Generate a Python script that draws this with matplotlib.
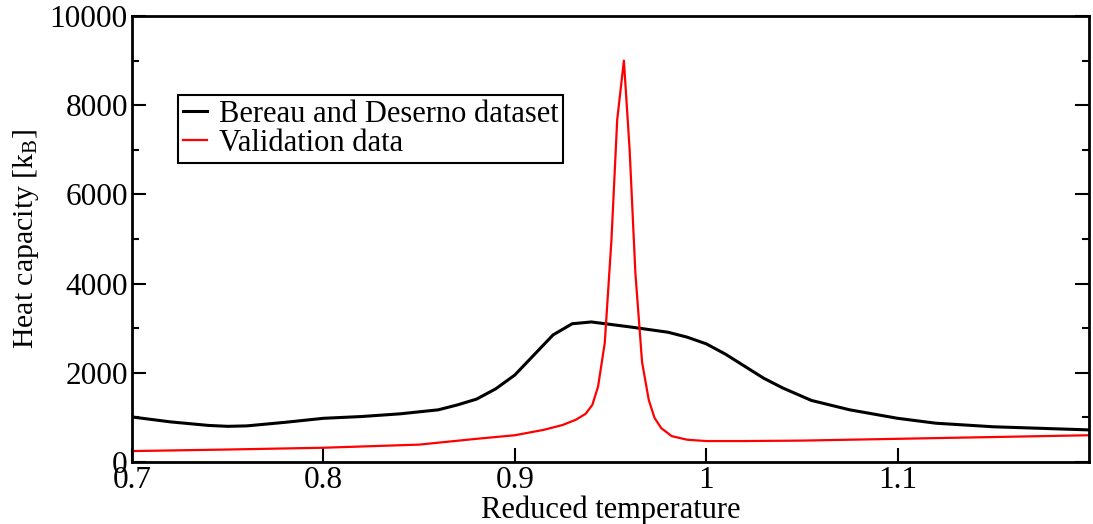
import matplotlib
matplotlib.use("Agg")
import matplotlib.pyplot as plt
from matplotlib.ticker import MultipleLocator

# Bereau and Deserno dataset
blk_t = [0.70, 0.72, 0.74, 0.75, 0.76, 0.78, 0.80, 0.82, 0.84, 0.86, 0.87,
         0.88, 0.89, 0.90, 0.91, 0.92, 0.93, 0.94, 0.96, 0.98, 0.99, 1.00,
         1.01, 1.02, 1.03, 1.04, 1.055, 1.075, 1.10, 1.12, 1.15, 1.20]
blk_c = [1010, 900, 820, 800, 810, 890, 980, 1020, 1080, 1170, 1280,
         1410, 1640, 1950, 2400, 2850, 3100, 3140, 3030, 2910, 2800, 2650,
         2420, 2150, 1880, 1660, 1380, 1170, 980, 870, 790, 720]

# validation data
red_t = [0.70, 0.75, 0.80, 0.85, 0.88, 0.90, 0.915, 0.925, 0.932, 0.937,
         0.9405, 0.9435, 0.947, 0.9505, 0.9535, 0.957, 0.960, 0.963, 0.9665,
         0.970, 0.973, 0.9765, 0.982, 0.99, 1.00, 1.02, 1.05, 1.10, 1.15, 1.20]
red_c = [245, 280, 320, 390, 520, 600, 720, 830, 950, 1080,
         1280, 1690, 2670, 4980, 7670, 9000, 7000, 4240, 2240,
         1390, 990, 760, 580, 500, 470, 470, 480, 520, 560, 600]

xticks = [0.7, 0.8, 0.9, 1.0, 1.1]
xlabels = ["0.7", "0.8", "0.9", "1", "1.1"]

plt.rcParams["font.family"] = ["Liberation Serif", "DejaVu Serif"]
plt.rcParams["mathtext.fontset"] = "custom"
plt.rcParams["mathtext.rm"] = "Liberation Serif"
plt.rcParams["mathtext.it"] = "Liberation Serif:italic"

fig = plt.figure(figsize=(10.93, 5.24), dpi=100)
ax = fig.add_axes([0.1208, 0.1183, 0.8755, 0.8512])

ax.plot(blk_t, blk_c, color="black", lw=2.2, label="Bereau and Deserno dataset")
ax.plot(red_t, red_c, color="red", lw=1.6, label="Validation data")

ax.set_xlim(0.7, 1.2)
ax.set_ylim(0, 10000)
ax.set_xticks(xticks)
ax.set_xticklabels(xlabels)
ax.yaxis.set_major_locator(MultipleLocator(2000))
ax.yaxis.set_minor_locator(MultipleLocator(1000))

for s in ax.spines.values():
    s.set_linewidth(2)
ax.tick_params(axis="both", which="both", direction="in", labelsize=22.5, width=1.5)
ax.tick_params(axis="y", which="major", length=10, right=True, pad=3)
ax.tick_params(axis="y", which="minor", length=5, right=True)
ax.tick_params(axis="x", which="major", length=10, top=False, pad=3)

ax.set_xlabel("Reduced temperature", fontsize=22, labelpad=0)
ax.set_ylabel(r"Heat capacity [k$_\mathrm{B}$]", fontsize=21.5, labelpad=6)

leg = ax.legend(loc="upper left", bbox_to_anchor=(0.048, 0.822),
                borderaxespad=0, fontsize=22, fancybox=False, framealpha=1,
                edgecolor="black", labelspacing=0.0, borderpad=0.15,
                handlelength=0.8, handletextpad=0.4)
leg.get_frame().set_linewidth(1.5)

fig.savefig("out.png", dpi=100)
